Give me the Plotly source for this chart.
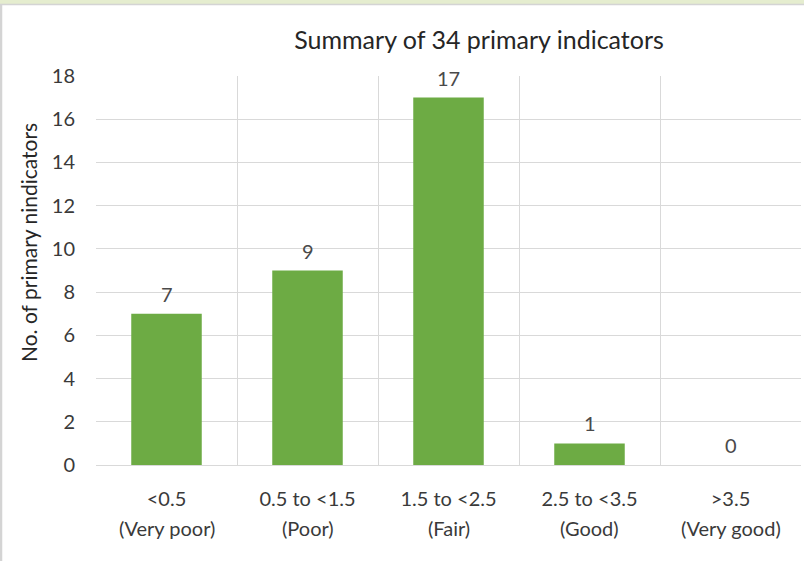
import plotly.graph_objects as go

# Score bands and how many of the 34 primary indicators fall in each
ranges = ["<0.5", "0.5 to <1.5", "1.5 to <2.5", "2.5 to <3.5", ">3.5"]
ratings = ["(Very poor)", "(Poor)", "(Fair)", "(Good)", "(Very good)"]
counts = [7, 9, 17, 1, 0]
y_ticks = [0, 2, 4, 6, 8, 10, 12, 14, 16, 18]

FONT = "Lato, Calibri, Noto Sans, sans-serif"
TEXT = "#3a3a3a"
GRID = "#d9d9d9"

# plot-area geometry in pixels
W, H = 804, 561
L, R, T, B = 96, 3, 76, 96
PW, PH = W - L - R, H - T - B

positions = list(range(len(ranges)))

fig = go.Figure()
fig.add_trace(go.Bar(
    x=positions,
    y=counts,
    width=0.5,
    marker=dict(color="#6dab44", line=dict(width=0)),
    hoverinfo="skip",
))

# value labels above each bar
for xi, v in zip(positions, counts):
    fig.add_annotation(
        x=xi, y=v, xref="x", yref="y", text=str(v), showarrow=False,
        yanchor="bottom", yshift=6,
        font=dict(family=FONT, size=20, color="#4a4a4a"),
    )

# second line of each category label
for xi, r in zip(positions, ratings):
    fig.add_annotation(
        x=xi, y=0, xref="x", yref="paper", text=r, showarrow=False,
        yanchor="middle", yshift=-63,
        font=dict(family=FONT, size=20, color=TEXT),
    )

# y-axis title
fig.add_annotation(
    text="No. of primary nindicators", textangle=-90,
    x=(28 - L) / PW, y=(H - B - 243) / PH, xref="paper", yref="paper",
    xanchor="center", yanchor="middle", showarrow=False,
    font=dict(family=FONT, size=21, color="#262626"),
)

fig.update_layout(
    width=W, height=H,
    margin=dict(l=L, r=R, t=T, b=B),
    paper_bgcolor="white", plot_bgcolor="white",
    showlegend=False,
    title=dict(
        text="Summary of 34 primary indicators",
        x=479 / W, xref="container", xanchor="center",
        y=1 - 40 / H, yref="container", yanchor="middle",
        font=dict(family=FONT, size=25, color="#262626"),
    ),
    xaxis=dict(
        range=[-0.5, 4.5],
        tickmode="array", tickvals=positions, ticktext=ranges,
        showgrid=False, zeroline=False, showline=False, ticks="",
        tickfont=dict(family=FONT, size=20, color=TEXT),
        ticklabelstandoff=20,
        minor=dict(tickvals=[-0.5, 0.5, 1.5, 2.5, 3.5], showgrid=True,
                   gridcolor=GRID, gridwidth=1, ticks=""),
        fixedrange=True,
    ),
    yaxis=dict(
        range=[0, 18],
        tickmode="array", tickvals=y_ticks,
        showgrid=True, gridcolor=GRID, gridwidth=1,
        zeroline=True, zerolinecolor=GRID, zerolinewidth=1,
        showline=False, ticks="",
        tickfont=dict(family=FONT, size=20, color=TEXT),
        ticklabelstandoff=20,
        fixedrange=True,
    ),
    shapes=[
        # pale band and rule along the top edge, rule down the left edge
        dict(type="rect", xref="paper", yref="paper",
             x0=-L / PW, x1=1 + R / PW, y0=1 + (T - 4) / PH, y1=1 + T / PH,
             fillcolor="#e5edcf", line=dict(width=0), layer="below"),
        dict(type="line", xref="paper", yref="paper",
             x0=-L / PW, x1=1 + R / PW, y0=1 + (T - 4.5) / PH, y1=1 + (T - 4.5) / PH,
             line=dict(color="#d4d4d4", width=1.5)),
        dict(type="line", xref="paper", yref="paper",
             x0=-(L - 1) / PW, x1=-(L - 1) / PW, y0=-B / PH, y1=1 + (T - 4.5) / PH,
             line=dict(color="#d4d4d4", width=2.5)),
    ],
)

fig.write_html("out.html")
